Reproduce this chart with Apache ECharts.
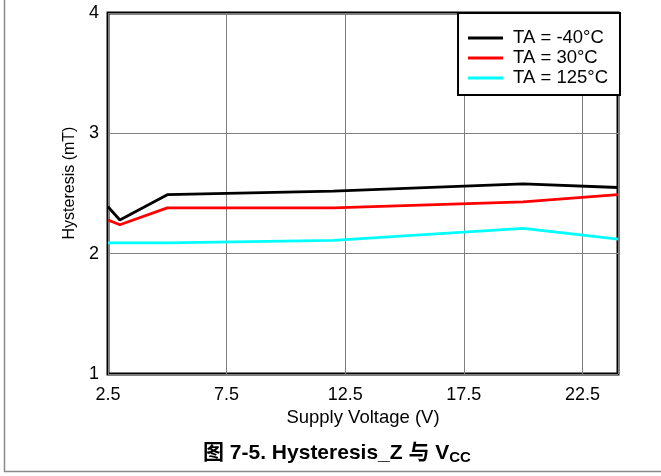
<!DOCTYPE html>
<html>
<head>
<meta charset="utf-8">
<script src="https://cdn.jsdelivr.net/npm/echarts@6/dist/echarts.min.js"></script>
<style>
  html, body { margin: 0; padding: 0; background: #fff; }
  #chart { width: 661px; height: 476px; }
</style>
</head>
<body>
<div id="chart"></div>
<script>
// Supply voltage sweep (V)
const supplyVoltage = [2.5, 3, 5, 12, 20, 24];
// Hysteresis (mT) at each temperature
const hystMinus40 = [2.39, 2.28, 2.49, 2.52, 2.58, 2.55];
const hyst30 = [2.28, 2.24, 2.38, 2.38, 2.43, 2.49];
const hyst125 = [2.09, 2.09, 2.09, 2.11, 2.21, 2.12];
const seriesNames = ['TA = -40°C', 'TA = 30°C', 'TA = 125°C'];
const xTicks = [2.5, 7.5, 12.5, 17.5, 22.5];
const yTicks = [1, 2, 3, 4];

// x axis runs from 2.5 V; values are plotted relative to that origin so the
// 5 V tick spacing starts at the axis minimum.
const X0 = 2.5;
const toPts = (ys) => supplyVoltage.map((v, i) => [v - X0, ys[i]]);

const font = "'Liberation Sans', Arial, 'Noto Sans CJK SC', sans-serif";
const chart = echarts.init(document.getElementById('chart'), null, { renderer: 'canvas' });

const mkSeries = (name, ys, color) => ({
  name, type: 'line', data: toPts(ys), symbol: 'none',
  lineStyle: { color, width: 2.8 }, itemStyle: { color },
  z: 3, silent: true
});

chart.setOption({
  animation: false,
  backgroundColor: '#fff',
  textStyle: { fontFamily: font },
  grid: {
    left: 108, top: 13, width: 510, height: 361,
    show: true, borderColor: '#000', borderWidth: 3, backgroundColor: 'transparent'
  },
  xAxis: {
    type: 'value',
    min: 0, max: 24 - X0, interval: 5,
    name: 'Supply Voltage (V)', nameLocation: 'middle', nameGap: 31,
    nameTextStyle: { fontSize: 18.5, color: '#000', fontFamily: font },
    axisLine: { show: false }, axisTick: { show: false },
    axisLabel: {
      fontSize: 18, color: '#000', margin: 12, fontFamily: font,
      showMaxLabel: false,
      formatter: (v) => {
        const t = v + X0;
        return xTicks.some(k => Math.abs(k - t) < 1e-6) ? t.toFixed(1) : '';
      }
    },
    splitLine: { show: true, lineStyle: { color: '#7f7f7f', width: 1 } }
  },
  yAxis: {
    type: 'value', min: yTicks[0], max: yTicks[yTicks.length - 1], interval: 1,
    name: 'Hysteresis (mT)', nameLocation: 'middle', nameGap: 30,
    nameTextStyle: { fontSize: 16, color: '#000', fontFamily: font, padding: [0, 0, 0, 21] },
    axisLine: { show: false }, axisTick: { show: false },
    axisLabel: { fontSize: 18, color: '#000', margin: 9, fontFamily: font },
    splitLine: { show: true, lineStyle: { color: '#7f7f7f', width: 1 } }
  },
  legend: {
    orient: 'vertical', right: 41, top: 13,
    backgroundColor: '#fff', borderColor: '#000', borderWidth: 2,
    padding: [15, 12, 7, 10],
    icon: 'rect', itemWidth: 35, itemHeight: 3, itemGap: 0,
    textStyle: { fontSize: 18.5, color: '#000', fontFamily: font, lineHeight: 20, padding: [0, 0, 0, 5] },
    data: seriesNames, selectedMode: false
  },
  title: {
    left: 203, top: 441, padding: 0,
    text: '{a|图 7-5. Hysteresis_Z 与 V}{b|CC}',
    textStyle: {
      rich: {
        a: { fontSize: 21, fontWeight: 'bold', color: '#000', fontFamily: font },
        b: { fontSize: 15, fontWeight: 'bold', color: '#000', fontFamily: font, padding: [9, 0, 0, 0] }
      }
    }
  },
  graphic: [
    { type: 'line', shape: { x1: 4.5, y1: 0, x2: 4.5, y2: 472 }, style: { stroke: '#8a8a8a', lineWidth: 1.5 }, silent: true },
    { type: 'line', shape: { x1: 4, y1: 471.5, x2: 661, y2: 471.5 }, style: { stroke: '#8a8a8a', lineWidth: 1.5 }, silent: true }
  ],
  series: [
    mkSeries(seriesNames[0], hystMinus40, '#000000'),
    mkSeries(seriesNames[1], hyst30, '#ff0000'),
    mkSeries(seriesNames[2], hyst125, '#00ffff')
  ]
});
</script>
</body>
</html>
